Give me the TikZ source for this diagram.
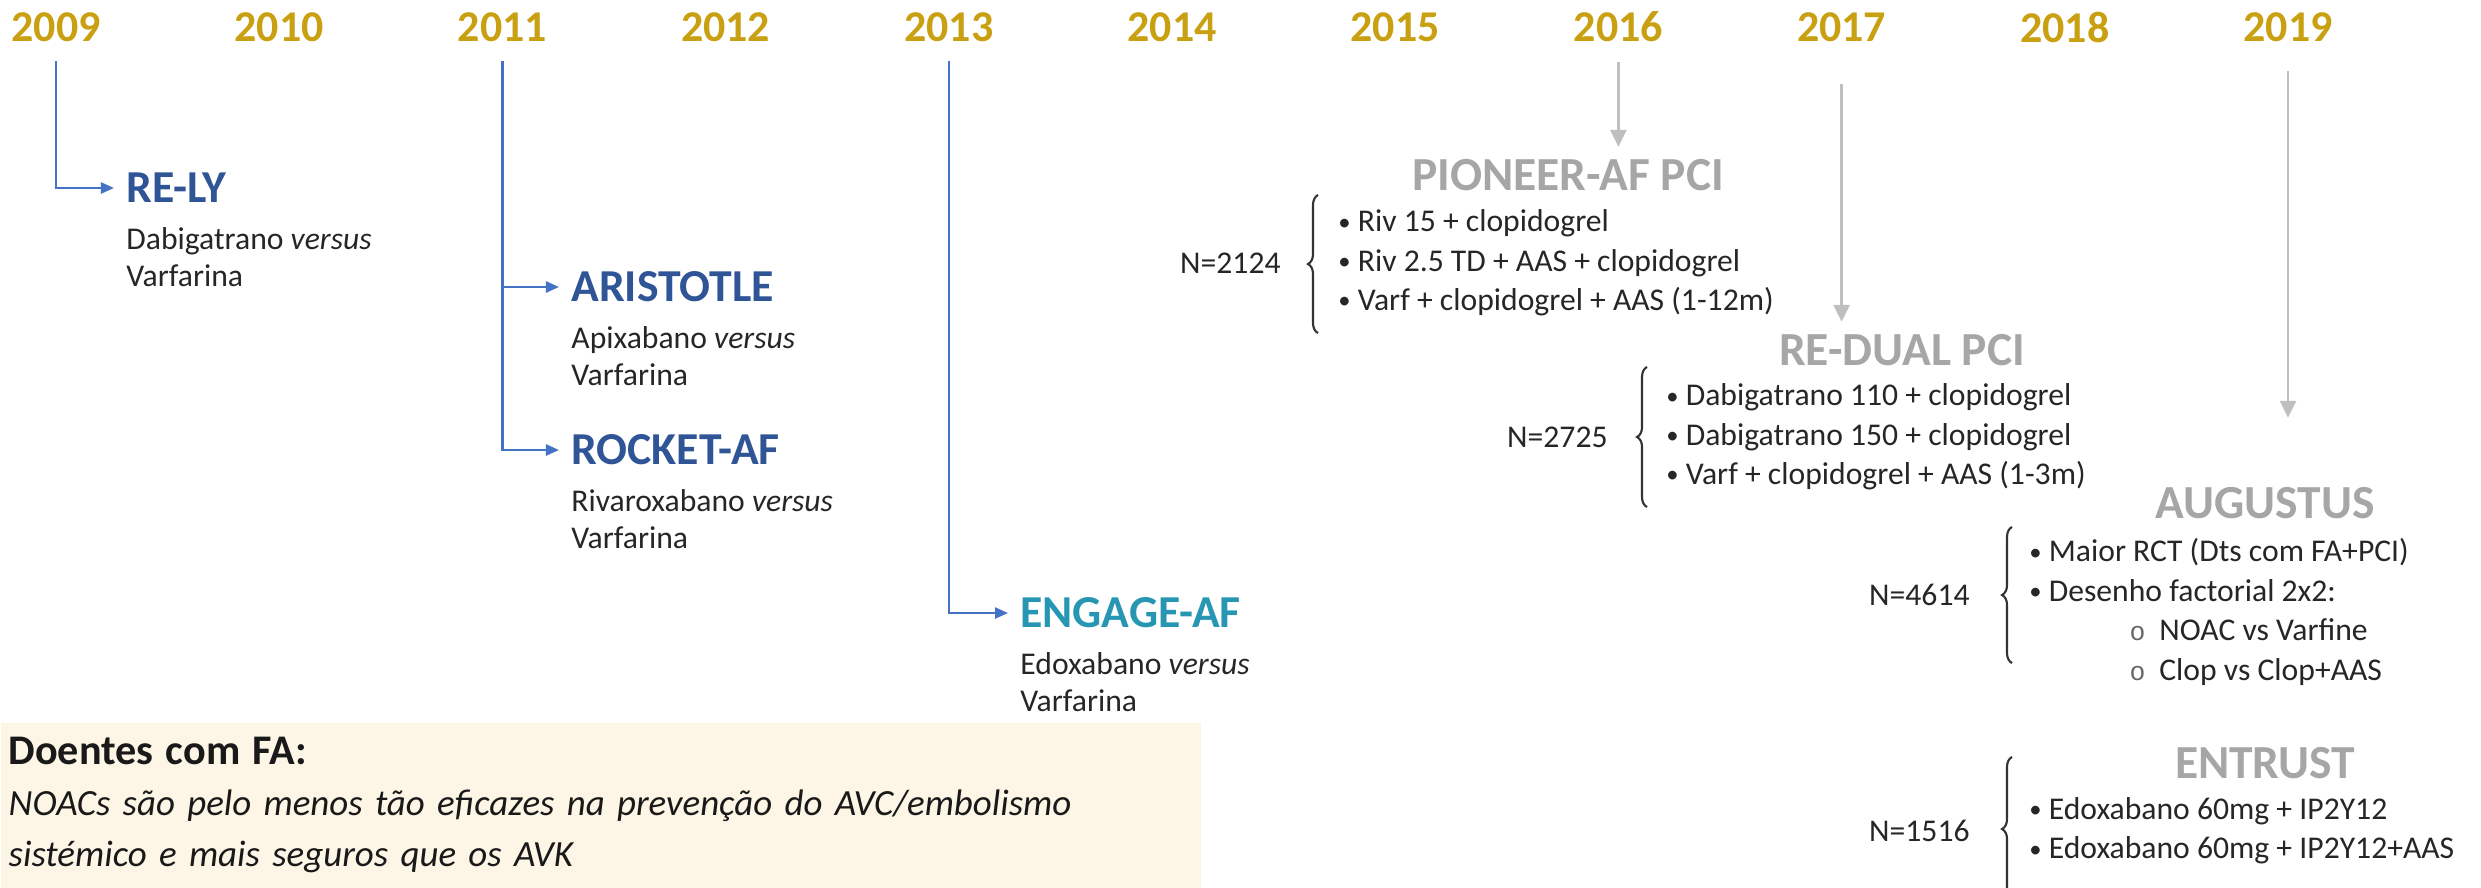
\documentclass[tikz,border=0pt]{standalone}
\usepackage{fontspec}
\setmainfont{Carlito}
\newfontfamily\ringfont{Liberation Mono}
\usetikzlibrary{arrows.meta,positioning,decorations.pathreplacing}
\definecolor{yeargold}{RGB}{201,160,17}
\definecolor{trialblue}{RGB}{47,85,151}
\definecolor{linkblue}{RGB}{68,114,196}
\definecolor{engageteal}{RGB}{38,150,178}
\definecolor{pcigray}{RGB}{166,166,166}
\definecolor{arrowgray}{RGB}{191,191,191}
\definecolor{notecream}{RGB}{253,246,230}
\newcommand{\dotitem}{\raisebox{0.5pt}{\fontsize{7}{7}\selectfont•}\ }
\newcommand{\ringitem}{\hspace*{1.0cm}\textcolor{black!60}{\ringfont\fontsize{7.5}{7.5}\selectfont o}\hspace{0.14cm}}

\begin{document}
\begin{tikzpicture}[
    x=0.01cm, y=-0.01cm,
    year/.style={font=\fontsize{12.5}{14}\selectfont\bfseries,text=yeargold,inner sep=0pt},
    trial/.style={font=\fontsize{13}{15}\selectfont\bfseries,text=trialblue,anchor=west},
    desc/.style={font=\fontsize{9}{10.5}\selectfont,align=left,text=black!85},
    pci/.style={font=\fontsize{13.5}{16}\selectfont\bfseries,text=pcigray},
    nlabel/.style={font=\fontsize{9}{11}\selectfont,anchor=east,text=black!85},
    items/.style={font=\fontsize{9}{11.2}\selectfont,align=left,anchor=west,text=black!85},
    notebox/.style={fill=notecream,anchor=north west,minimum width=12cm,minimum height=1.65cm,
      text width=11.84cm,inner xsep=0.08cm,inner ysep=0.06cm,align=left,
      font=\fontsize{10.5}{14.5}\selectfont,text=black!90},
    link/.style={draw=linkblue,line width=0.7pt,-{Triangle[length=0.13cm,width=0.11cm]}},
    grayarrow/.style={draw=arrowgray,line width=0.7pt,-{Triangle[length=0.17cm,width=0.16cm]}},
    brace/.style={decorate,decoration={brace,amplitude=0.1cm},line width=0.6pt,draw=black!80}
  ]
  \useasboundingbox (0,0) rectangle (2481,887);

  % years
  \foreach \yr [count=\i from 0] in {2009,...,2019}
    \node[year] (y\yr) at (56+223.2*\i,27) {\yr};

  % AF trials
  \node[trial] (rely) at (114,188) {RE-LY};
  \node[trial] (aristotle) at (559,287) {ARISTOTLE};
  \node[trial] (rocket) at (559,450) {ROCKET-AF};
  \node[trial,text=engageteal] (engage) at (1008,613) {ENGAGE-AF};

  \node[desc,below=0pt of rely.south west,anchor=north west] (relyd) {Dabigatrano \textit{versus}\\Varfarina};
  \node[desc,below=0pt of aristotle.south west,anchor=north west] (aristotled) {Apixabano \textit{versus}\\Varfarina};
  \node[desc,below=0pt of rocket.south west,anchor=north west] (rocketd) {Rivaroxabano \textit{versus}\\Varfarina};
  \node[desc,below=0pt of engage.south west,anchor=north west] (engaged) {Edoxabano \textit{versus}\\Varfarina};

  \draw[link,shorten <=0.19cm] (y2009.south) |- (rely.west);
  \draw[link,shorten <=0.19cm] (y2011.south) |- (aristotle.west);
  \draw[link,shorten <=0.19cm] (y2011.south) |- (rocket.west);
  \draw[link,shorten <=0.19cm] (y2013.south) |- (engage.west);

  % PCI trials
  \node[pci] (pioneer) at (1568,175) {PIONEER-AF PCI};
  \node[pci] (redual) at (1902,350) {RE-DUAL PCI};
  \node[pci] (augustus) at (2265,503) {AUGUSTUS};
  \node[pci] (entrust) at (2265,763) {ENTRUST};

  \draw[grayarrow,shorten <=0.19cm] (y2016.south) -- (y2016.south |- pioneer.north);
  \draw[grayarrow,shorten <=0.42cm] (y2017.south) -- (y2017.south |- redual.north);
  \draw[grayarrow,shorten <=0.29cm,shorten >=0.57cm] (y2019.south) -- (y2019.south |- augustus.north);

  \node[nlabel] (pn) at (1293,263) {N=2124};
  \node[nlabel] (rn) at (1620,437) {N=2725};
  \node[nlabel] (an) at (1982,595) {N=4614};
  \node[nlabel] (en) at (1982,831) {N=1516};

  \draw[brace] ([xshift=0.25cm,yshift=-0.7cm]pn.east) -- ([xshift=0.25cm,yshift=0.68cm]pn.east);
  \draw[brace] ([xshift=0.27cm,yshift=-0.7cm]rn.east) -- ([xshift=0.27cm,yshift=0.7cm]rn.east);
  \draw[brace] ([xshift=0.3cm,yshift=-0.68cm]an.east) -- ([xshift=0.3cm,yshift=0.68cm]an.east);
  \draw[brace] ([xshift=0.3cm,yshift=-0.7cm]en.east) -- ([xshift=0.3cm,yshift=0.74cm]en.east);

  \node[items] (plist) at ([xshift=0.33cm]pn.east)
    {\dotitem Riv 15 + clopidogrel\\\dotitem Riv 2.5 TD + AAS + clopidogrel\\\dotitem Varf + clopidogrel + AAS (1-12m)};
  \node[items] (rlist) at ([xshift=0.34cm]rn.east)
    {\dotitem Dabigatrano 110 + clopidogrel\\\dotitem Dabigatrano 150 + clopidogrel\\\dotitem Varf + clopidogrel + AAS (1-3m)};
  \node[items] (alist) at ([xshift=0.35cm,yshift=-0.17cm]an.east)
    {\dotitem Maior RCT (Dts com FA+PCI)\\\dotitem Desenho factorial 2x2:\\
     \ringitem NOAC vs Varfine\\
     \ringitem Clop vs Clop+AAS};
  \node[items] (elist) at ([xshift=0.35cm]en.east)
    {\dotitem Edoxabano 60mg + IP2Y12\\\dotitem Edoxabano 60mg + IP2Y12+AAS};

  % conclusion
  \node[notebox] (note) at (0,722)
    {{\fontsize{12}{15}\selectfont\bfseries Doentes com FA:}\\
     \textit{NOACs são pelo menos tão eficazes na prevenção do AVC/embolismo}\\
     \textit{sistémico e mais seguros que os AVK}};
\end{tikzpicture}
\end{document}
